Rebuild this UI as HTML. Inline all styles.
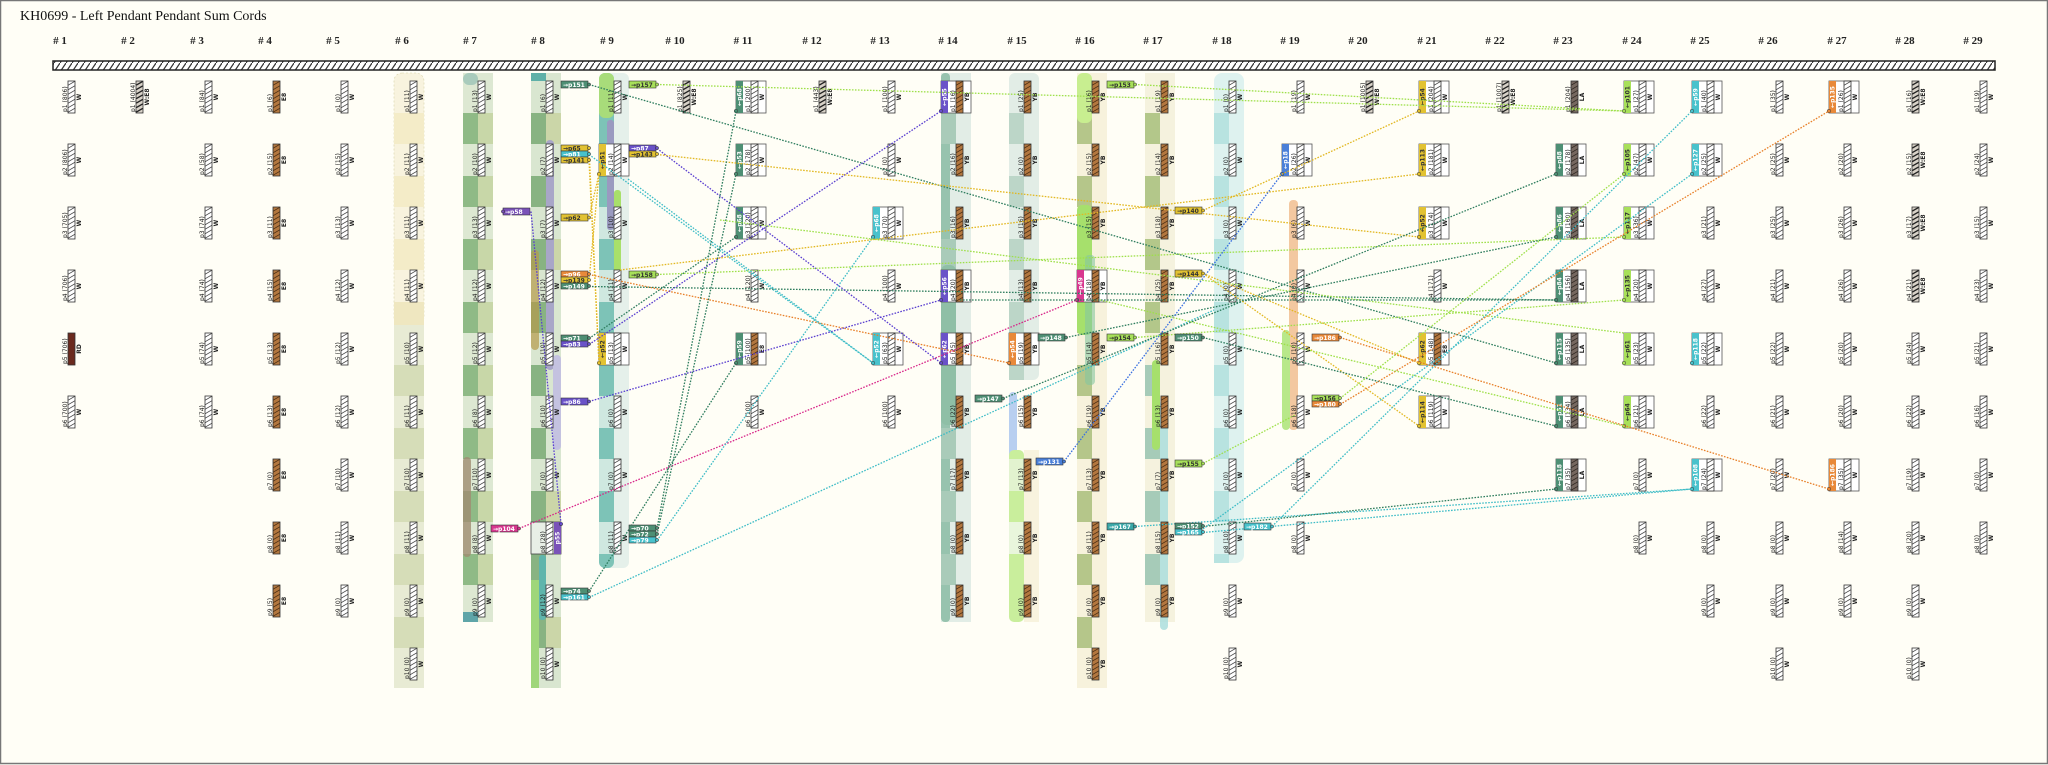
<!DOCTYPE html>
<html><head><meta charset="utf-8"><style>
html,body{margin:0;padding:0;background:#fffef6;}
svg{display:block}
.l{font:6px "DejaVu Sans",sans-serif;fill:#222}
.c{font:bold 6px "DejaVu Sans",sans-serif;fill:#222;text-anchor:middle}
.t{font:bold 6px "DejaVu Sans",sans-serif;fill:#fff;text-anchor:middle}
.tg{font:bold 6px "DejaVu Sans",sans-serif;fill:#fff}
.tk{font:bold 6px "DejaVu Sans",sans-serif;fill:#333}
.h{font:bold 11px "Liberation Serif",serif;fill:#222;text-anchor:middle}
.ln{fill:none;stroke-width:1.3;stroke-dasharray:1.6 1.4}
</style></head><body>
<svg width="2048" height="765" viewBox="0 0 2048 765" xmlns="http://www.w3.org/2000/svg">
<defs>
<pattern id="hw" width="7" height="4.5" patternUnits="userSpaceOnUse"><rect width="7" height="4.5" fill="#fff"/><path d="M0,4.3L7,0.2" stroke="#444" stroke-width=".8"/></pattern>
<pattern id="hb" width="7" height="4.5" patternUnits="userSpaceOnUse"><rect width="7" height="4.5" fill="#b3773f"/><path d="M0,4.3L7,0.2" stroke="#4a2d12" stroke-width=".8"/></pattern>
<pattern id="hl" width="7" height="4.5" patternUnits="userSpaceOnUse"><rect width="7" height="4.5" fill="#766860"/><path d="M0,4.3L7,0.2" stroke="#2e2620" stroke-width=".8"/></pattern>
<pattern id="hd" width="7" height="4.5" patternUnits="userSpaceOnUse"><rect width="7" height="4.5" fill="#d8d2c8"/><path d="M0,4.3L7,0.2" stroke="#222" stroke-width="1.3"/></pattern>
<pattern id="bar" width="6" height="9" patternUnits="userSpaceOnUse"><rect width="6" height="9" fill="#fff"/><path d="M0,9L6,0" stroke="#333" stroke-width="1.2"/></pattern>
<rect id="w" width="7" height="32" fill="url(#hw)" stroke="#333" stroke-width=".8"/>
<rect id="b" width="7" height="32" fill="url(#hb)" stroke="#333" stroke-width=".8"/>
<rect id="a" width="7" height="32" fill="url(#hl)" stroke="#333" stroke-width=".8"/>
<rect id="d" width="7" height="32" fill="url(#hd)" stroke="#333" stroke-width=".8"/>
</defs>
<rect x="0.5" y="0.5" width="2047" height="763" fill="#fffef6" stroke="#777" stroke-width="1.5"/>
<text x="20" y="20" style="font:14px 'Liberation Serif',serif;fill:#111">KH0699 - Left Pendant Pendant Sum Cords</text>
<g>
<text class="h" x="60" y="44"># 1</text><text class="h" x="128" y="44"># 2</text><text class="h" x="197" y="44"># 3</text><text class="h" x="265" y="44"># 4</text><text class="h" x="333" y="44"># 5</text><text class="h" x="402" y="44"># 6</text><text class="h" x="470" y="44"># 7</text><text class="h" x="538" y="44"># 8</text><text class="h" x="607" y="44"># 9</text><text class="h" x="675" y="44"># 10</text><text class="h" x="743" y="44"># 11</text><text class="h" x="812" y="44"># 12</text><text class="h" x="880" y="44"># 13</text><text class="h" x="948" y="44"># 14</text><text class="h" x="1017" y="44"># 15</text><text class="h" x="1085" y="44"># 16</text><text class="h" x="1153" y="44"># 17</text><text class="h" x="1222" y="44"># 18</text><text class="h" x="1290" y="44"># 19</text><text class="h" x="1358" y="44"># 20</text><text class="h" x="1427" y="44"># 21</text><text class="h" x="1495" y="44"># 22</text><text class="h" x="1563" y="44"># 23</text><text class="h" x="1632" y="44"># 24</text><text class="h" x="1700" y="44"># 25</text><text class="h" x="1768" y="44"># 26</text><text class="h" x="1837" y="44"># 27</text><text class="h" x="1905" y="44"># 28</text><text class="h" x="1973" y="44"># 29</text>
</g>
<rect x="53" y="61" width="1942" height="9" fill="url(#bar)" stroke="#222" stroke-width="1.5"/>

<!-- bands -->
<g>
<rect x="394" y="73" width="30" height="252" rx="8" fill="#f8f3de" stroke="#d8d3a8" stroke-width=".6" stroke-dasharray="2 2"/>
<rect x="394" y="113" width="30" height="31" fill="#f4ecc8"/><rect x="394" y="176" width="30" height="31" fill="#f4ecc8"/><rect x="394" y="239" width="30" height="31" fill="#f4ecc8"/><rect x="394" y="302" width="30" height="23" fill="#efe7c0"/>
<rect x="394" y="325" width="30" height="363" fill="#e8ebd4"/>
<rect x="394" y="365" width="30" height="31" fill="#d6ddb8"/><rect x="394" y="428" width="30" height="31" fill="#d6ddb8"/><rect x="394" y="491" width="30" height="31" fill="#d6ddb8"/><rect x="394" y="554" width="30" height="31" fill="#d6ddb8"/><rect x="394" y="617" width="30" height="31" fill="#d6ddb8"/>

<rect x="463" y="73" width="30" height="549" fill="#dde8d2"/>
<rect x="463" y="73" width="15" height="12" rx="6" fill="#a9cbbc"/>
<g fill="#8fba86"><rect x="463" y="113" width="15" height="31"/><rect x="463" y="176" width="15" height="31"/><rect x="463" y="239" width="15" height="31"/><rect x="463" y="302" width="15" height="31"/><rect x="463" y="365" width="15" height="31"/><rect x="463" y="428" width="15" height="31"/><rect x="463" y="491" width="15" height="31"/><rect x="463" y="554" width="15" height="31"/></g>
<g fill="#c8d7a8"><rect x="478" y="113" width="15" height="31"/><rect x="478" y="176" width="15" height="31"/><rect x="478" y="239" width="15" height="31"/><rect x="478" y="302" width="15" height="31"/><rect x="478" y="365" width="15" height="31"/><rect x="478" y="428" width="15" height="31"/><rect x="478" y="491" width="15" height="31"/><rect x="478" y="554" width="15" height="31"/></g>
<rect x="463" y="457" width="8" height="100" rx="4" fill="#a08c72" opacity=".8"/>
<rect x="463" y="612" width="15" height="10" fill="#5fa5a8"/>

<rect x="531" y="73" width="30" height="615" fill="#d9e6d0"/>
<rect x="531" y="73" width="15" height="8" fill="#5fb0a8"/>
<g fill="#88b382"><rect x="531" y="113" width="15" height="31"/><rect x="531" y="176" width="15" height="31"/><rect x="531" y="239" width="15" height="31"/><rect x="531" y="302" width="15" height="31"/><rect x="531" y="365" width="15" height="31"/><rect x="531" y="428" width="15" height="31"/><rect x="531" y="491" width="15" height="31"/><rect x="531" y="554" width="15" height="31"/><rect x="531" y="617" width="15" height="31"/></g>
<g fill="#cbd6a8"><rect x="546" y="113" width="15" height="31"/><rect x="546" y="239" width="15" height="31"/><rect x="546" y="491" width="15" height="31"/><rect x="546" y="617" width="15" height="31"/></g>
<rect x="531" y="250" width="8" height="100" rx="4" fill="#b59a4a" opacity=".7"/>
<rect x="546" y="140" width="8" height="230" rx="4" fill="#a8a6c8"/>
<rect x="553" y="355" width="8" height="95" rx="4" fill="#c4c2e0"/>
<rect x="539" y="555" width="7" height="65" rx="3" fill="#5fb5ac"/>
<rect x="531" y="580" width="8" height="108" fill="#9fd67a"/>

<rect x="599" y="73" width="30" height="495" rx="6" fill="#e5f0ea"/>
<rect x="599" y="73" width="15" height="495" rx="6" fill="#7dc3b7"/>
<g fill="#cfe8e0"><rect x="599" y="81" width="15" height="32"/><rect x="599" y="207" width="15" height="32"/><rect x="599" y="270" width="15" height="32"/><rect x="599" y="396" width="15" height="32"/><rect x="599" y="459" width="15" height="32"/><rect x="599" y="522" width="15" height="32"/></g>
<rect x="599" y="73" width="15" height="45" rx="6" fill="#a8dc7a"/>
<rect x="607" y="120" width="7" height="110" rx="3" fill="#9a9ac0"/>
<rect x="614" y="190" width="7" height="85" rx="3" fill="#a8e06a"/>

<rect x="941" y="73" width="30" height="549" fill="#e2ede6"/>
<rect x="941" y="73" width="9" height="549" rx="4" fill="#97c3ae"/>
<g fill="#a9cbb9"><rect x="941" y="113" width="15" height="31"/><rect x="941" y="239" width="15" height="31"/><rect x="941" y="365" width="15" height="31"/><rect x="941" y="428" width="15" height="31"/><rect x="941" y="491" width="15" height="31"/><rect x="941" y="554" width="15" height="31"/></g>
<rect x="941" y="265" width="15" height="160" rx="6" fill="#8fbfa6"/>

<rect x="1009" y="73" width="30" height="307" rx="6" fill="#e2ede6"/>
<g fill="#bcd6c8"><rect x="1009" y="113" width="15" height="31"/><rect x="1009" y="176" width="15" height="31"/><rect x="1009" y="239" width="15" height="31"/><rect x="1009" y="302" width="15" height="31"/><rect x="1009" y="365" width="15" height="15"/></g>
<rect x="1009" y="392" width="8" height="103" rx="4" fill="#b8cff0"/>
<rect x="1024" y="450" width="15" height="172" fill="#f8f3de"/>
<rect x="1009" y="450" width="15" height="172" rx="5" fill="#c9ee9c"/>
<rect x="1009" y="459" width="15" height="32" fill="#e2f3cf"/><rect x="1009" y="522" width="15" height="32" fill="#e9f6dc"/>

<rect x="1077" y="73" width="30" height="615" fill="#f7f2dc"/>
<g fill="#b5c68a"><rect x="1077" y="113" width="15" height="31"/><rect x="1077" y="176" width="15" height="31"/><rect x="1077" y="239" width="15" height="31"/><rect x="1077" y="302" width="15" height="31"/><rect x="1077" y="365" width="15" height="31"/><rect x="1077" y="428" width="15" height="31"/><rect x="1077" y="491" width="15" height="31"/><rect x="1077" y="554" width="15" height="31"/><rect x="1077" y="617" width="15" height="31"/></g>
<rect x="1077" y="73" width="15" height="50" rx="6" fill="#c8ee90"/>
<rect x="1077" y="205" width="15" height="130" rx="5" fill="#a6e06c"/>
<rect x="1085" y="255" width="10" height="130" rx="4" fill="#86c6a0" opacity=".6"/>

<rect x="1145" y="73" width="30" height="549" fill="#f5f2de"/>
<g fill="#b3c78a"><rect x="1145" y="113" width="15" height="31"/><rect x="1145" y="176" width="15" height="31"/><rect x="1145" y="239" width="15" height="31"/><rect x="1145" y="302" width="15" height="31"/></g>
<g fill="#a6cbb8"><rect x="1145" y="365" width="15" height="31"/><rect x="1145" y="428" width="15" height="31"/><rect x="1145" y="491" width="15" height="31"/><rect x="1145" y="554" width="15" height="31"/></g>
<rect x="1160" y="400" width="8" height="230" rx="4" fill="#a6dcdc" opacity=".8"/>
<rect x="1152" y="360" width="8" height="90" rx="4" fill="#a6e06c"/>

<rect x="1214" y="73" width="30" height="490" rx="8" fill="#def2ef"/>
<g fill="#b8e3e0"><rect x="1214" y="113" width="15" height="31"/><rect x="1214" y="176" width="15" height="31"/><rect x="1214" y="239" width="15" height="31"/><rect x="1214" y="302" width="15" height="31"/><rect x="1214" y="365" width="15" height="31"/><rect x="1214" y="428" width="15" height="31"/><rect x="1214" y="491" width="15" height="31"/><rect x="1214" y="554" width="15" height="9"/></g>

<rect x="1289" y="200" width="9" height="230" rx="4" fill="#f3c8a0"/>
<rect x="1282" y="330" width="8" height="100" rx="4" fill="#b8e88a"/>
</g>

<!-- cords -->
<g id="cords">
<!-- col1 -->
<g transform="translate(68,81)"><use href="#w"/><text class="l" transform="translate(-1,31)rotate(-90)">p1 (806)</text><text class="c" transform="translate(13,16)rotate(-90)">W</text></g>
<g transform="translate(68,144)"><use href="#w"/><text class="l" transform="translate(-1,31)rotate(-90)">p2 (806)</text><text class="c" transform="translate(13,16)rotate(-90)">W</text></g>
<g transform="translate(68,207)"><use href="#w"/><text class="l" transform="translate(-1,31)rotate(-90)">p3 (705)</text><text class="c" transform="translate(13,16)rotate(-90)">W</text></g>
<g transform="translate(68,270)"><use href="#w"/><text class="l" transform="translate(-1,31)rotate(-90)">p4 (706)</text><text class="c" transform="translate(13,16)rotate(-90)">W</text></g>
<g transform="translate(68,333)"><rect width="7" height="32" fill="#6b2a1e" stroke="#333" stroke-width=".8"/><text class="l" transform="translate(-1,31)rotate(-90)">p5 (706)</text><text class="c" transform="translate(13,16)rotate(-90)">RD</text></g>
<g transform="translate(68,396)"><use href="#w"/><text class="l" transform="translate(-1,31)rotate(-90)">p6 (700)</text><text class="c" transform="translate(13,16)rotate(-90)">W</text></g>
<!-- col2 -->
<g transform="translate(136,81)"><use href="#d"/><text class="l" transform="translate(-1,31)rotate(-90)">p1 (4004)</text><text class="c" transform="translate(13,16)rotate(-90)">W:E8</text></g>
<!-- col3 -->
<g transform="translate(205,81)"><use href="#w"/><text class="l" transform="translate(-1,31)rotate(-90)">p1 (84)</text><text class="c" transform="translate(13,16)rotate(-90)">W</text></g>
<g transform="translate(205,144)"><use href="#w"/><text class="l" transform="translate(-1,31)rotate(-90)">p2 (58)</text><text class="c" transform="translate(13,16)rotate(-90)">W</text></g>
<g transform="translate(205,207)"><use href="#w"/><text class="l" transform="translate(-1,31)rotate(-90)">p3 (74)</text><text class="c" transform="translate(13,16)rotate(-90)">W</text></g>
<g transform="translate(205,270)"><use href="#w"/><text class="l" transform="translate(-1,31)rotate(-90)">p4 (74)</text><text class="c" transform="translate(13,16)rotate(-90)">W</text></g>
<g transform="translate(205,333)"><use href="#w"/><text class="l" transform="translate(-1,31)rotate(-90)">p5 (74)</text><text class="c" transform="translate(13,16)rotate(-90)">W</text></g>
<g transform="translate(205,396)"><use href="#w"/><text class="l" transform="translate(-1,31)rotate(-90)">p6 (74)</text><text class="c" transform="translate(13,16)rotate(-90)">W</text></g>
<!-- col4 -->
<g transform="translate(273,81)"><use href="#b"/><text class="l" transform="translate(-1,31)rotate(-90)">p1 (6)</text><text class="c" transform="translate(13,16)rotate(-90)">E8</text></g>
<g transform="translate(273,144)"><use href="#b"/><text class="l" transform="translate(-1,31)rotate(-90)">p2 (15)</text><text class="c" transform="translate(13,16)rotate(-90)">E8</text></g>
<g transform="translate(273,207)"><use href="#b"/><text class="l" transform="translate(-1,31)rotate(-90)">p3 (11)</text><text class="c" transform="translate(13,16)rotate(-90)">E8</text></g>
<g transform="translate(273,270)"><use href="#b"/><text class="l" transform="translate(-1,31)rotate(-90)">p4 (15)</text><text class="c" transform="translate(13,16)rotate(-90)">E8</text></g>
<g transform="translate(273,333)"><use href="#b"/><text class="l" transform="translate(-1,31)rotate(-90)">p5 (13)</text><text class="c" transform="translate(13,16)rotate(-90)">E8</text></g>
<g transform="translate(273,396)"><use href="#b"/><text class="l" transform="translate(-1,31)rotate(-90)">p6 (13)</text><text class="c" transform="translate(13,16)rotate(-90)">E8</text></g>
<g transform="translate(273,459)"><use href="#b"/><text class="l" transform="translate(-1,31)rotate(-90)">p7 (0)</text><text class="c" transform="translate(13,16)rotate(-90)">E8</text></g>
<g transform="translate(273,522)"><use href="#b"/><text class="l" transform="translate(-1,31)rotate(-90)">p8 (0)</text><text class="c" transform="translate(13,16)rotate(-90)">E8</text></g>
<g transform="translate(273,585)"><use href="#b"/><text class="l" transform="translate(-1,31)rotate(-90)">p9 (5)</text><text class="c" transform="translate(13,16)rotate(-90)">E8</text></g>
<!-- col5 -->
<g transform="translate(341,81)"><use href="#w"/><text class="l" transform="translate(-1,31)rotate(-90)">p1 (0)</text><text class="c" transform="translate(13,16)rotate(-90)">W</text></g>
<g transform="translate(341,144)"><use href="#w"/><text class="l" transform="translate(-1,31)rotate(-90)">p2 (15)</text><text class="c" transform="translate(13,16)rotate(-90)">W</text></g>
<g transform="translate(341,207)"><use href="#w"/><text class="l" transform="translate(-1,31)rotate(-90)">p3 (13)</text><text class="c" transform="translate(13,16)rotate(-90)">W</text></g>
<g transform="translate(341,270)"><use href="#w"/><text class="l" transform="translate(-1,31)rotate(-90)">p4 (12)</text><text class="c" transform="translate(13,16)rotate(-90)">W</text></g>
<g transform="translate(341,333)"><use href="#w"/><text class="l" transform="translate(-1,31)rotate(-90)">p5 (12)</text><text class="c" transform="translate(13,16)rotate(-90)">W</text></g>
<g transform="translate(341,396)"><use href="#w"/><text class="l" transform="translate(-1,31)rotate(-90)">p6 (12)</text><text class="c" transform="translate(13,16)rotate(-90)">W</text></g>
<g transform="translate(341,459)"><use href="#w"/><text class="l" transform="translate(-1,31)rotate(-90)">p7 (10)</text><text class="c" transform="translate(13,16)rotate(-90)">W</text></g>
<g transform="translate(341,522)"><use href="#w"/><text class="l" transform="translate(-1,31)rotate(-90)">p8 (11)</text><text class="c" transform="translate(13,16)rotate(-90)">W</text></g>
<g transform="translate(341,585)"><use href="#w"/><text class="l" transform="translate(-1,31)rotate(-90)">p9 (0)</text><text class="c" transform="translate(13,16)rotate(-90)">W</text></g>
<!-- col6 -->
<g transform="translate(410,81)"><use href="#w"/><text class="l" transform="translate(-1,31)rotate(-90)">p1 (11)</text><text class="c" transform="translate(13,16)rotate(-90)">W</text></g>
<g transform="translate(410,144)"><use href="#w"/><text class="l" transform="translate(-1,31)rotate(-90)">p2 (11)</text><text class="c" transform="translate(13,16)rotate(-90)">W</text></g>
<g transform="translate(410,207)"><use href="#w"/><text class="l" transform="translate(-1,31)rotate(-90)">p3 (11)</text><text class="c" transform="translate(13,16)rotate(-90)">W</text></g>
<g transform="translate(410,270)"><use href="#w"/><text class="l" transform="translate(-1,31)rotate(-90)">p4 (11)</text><text class="c" transform="translate(13,16)rotate(-90)">W</text></g>
<g transform="translate(410,333)"><use href="#w"/><text class="l" transform="translate(-1,31)rotate(-90)">p5 (10)</text><text class="c" transform="translate(13,16)rotate(-90)">W</text></g>
<g transform="translate(410,396)"><use href="#w"/><text class="l" transform="translate(-1,31)rotate(-90)">p6 (11)</text><text class="c" transform="translate(13,16)rotate(-90)">W</text></g>
<g transform="translate(410,459)"><use href="#w"/><text class="l" transform="translate(-1,31)rotate(-90)">p7 (10)</text><text class="c" transform="translate(13,16)rotate(-90)">W</text></g>
<g transform="translate(410,522)"><use href="#w"/><text class="l" transform="translate(-1,31)rotate(-90)">p8 (11)</text><text class="c" transform="translate(13,16)rotate(-90)">W</text></g>
<g transform="translate(410,585)"><use href="#w"/><text class="l" transform="translate(-1,31)rotate(-90)">p9 (0)</text><text class="c" transform="translate(13,16)rotate(-90)">W</text></g>
<g transform="translate(410,648)"><use href="#w"/><text class="l" transform="translate(-1,31)rotate(-90)">p10 (0)</text><text class="c" transform="translate(13,16)rotate(-90)">W</text></g>
<!-- col7 -->
<g transform="translate(478,81)"><use href="#w"/><text class="l" transform="translate(-1,31)rotate(-90)">p1 (13)</text><text class="c" transform="translate(13,16)rotate(-90)">W</text></g>
<g transform="translate(478,144)"><use href="#w"/><text class="l" transform="translate(-1,31)rotate(-90)">p2 (10)</text><text class="c" transform="translate(13,16)rotate(-90)">W</text></g>
<g transform="translate(478,207)"><use href="#w"/><text class="l" transform="translate(-1,31)rotate(-90)">p3 (13)</text><text class="c" transform="translate(13,16)rotate(-90)">W</text></g>
<g transform="translate(478,270)"><use href="#w"/><text class="l" transform="translate(-1,31)rotate(-90)">p4 (12)</text><text class="c" transform="translate(13,16)rotate(-90)">W</text></g>
<g transform="translate(478,333)"><use href="#w"/><text class="l" transform="translate(-1,31)rotate(-90)">p5 (12)</text><text class="c" transform="translate(13,16)rotate(-90)">W</text></g>
<g transform="translate(478,396)"><use href="#w"/><text class="l" transform="translate(-1,31)rotate(-90)">p6 (8)</text><text class="c" transform="translate(13,16)rotate(-90)">W</text></g>
<g transform="translate(478,459)"><use href="#w"/><text class="l" transform="translate(-1,31)rotate(-90)">p7 (10)</text><text class="c" transform="translate(13,16)rotate(-90)">W</text></g>
<g transform="translate(478,522)"><use href="#w"/><text class="l" transform="translate(-1,31)rotate(-90)">p8 (8)</text><text class="c" transform="translate(13,16)rotate(-90)">W</text></g>
<g transform="translate(478,585)"><use href="#w"/><text class="l" transform="translate(-1,31)rotate(-90)">p9 (0)</text><text class="c" transform="translate(13,16)rotate(-90)">W</text></g>
<!-- col8 -->
<g transform="translate(546,81)"><use href="#w"/><text class="l" transform="translate(-1,31)rotate(-90)">p1 (6)</text><text class="c" transform="translate(13,16)rotate(-90)">W</text></g>
<g transform="translate(546,144)"><use href="#w"/><text class="l" transform="translate(-1,31)rotate(-90)">p2 (7)</text><text class="c" transform="translate(13,16)rotate(-90)">W</text></g>
<g transform="translate(546,207)"><use href="#w"/><text class="l" transform="translate(-1,31)rotate(-90)">p3 (7)</text><text class="c" transform="translate(13,16)rotate(-90)">W</text></g>
<g transform="translate(546,270)"><use href="#w"/><text class="l" transform="translate(-1,31)rotate(-90)">p4 (12)</text><text class="c" transform="translate(13,16)rotate(-90)">W</text></g>
<g transform="translate(546,333)"><use href="#w"/><text class="l" transform="translate(-1,31)rotate(-90)">p5 (10)</text><text class="c" transform="translate(13,16)rotate(-90)">W</text></g>
<g transform="translate(546,396)"><use href="#w"/><text class="l" transform="translate(-1,31)rotate(-90)">p6 (10)</text><text class="c" transform="translate(13,16)rotate(-90)">W</text></g>
<g transform="translate(546,459)"><use href="#w"/><text class="l" transform="translate(-1,31)rotate(-90)">p7 (0)</text><text class="c" transform="translate(13,16)rotate(-90)">W</text></g>
<g transform="translate(546,522)"><rect x="-15" width="30" height="32" fill="#e8efe6" stroke="#444" stroke-width=".8"/><rect x="8" width="7" height="32" fill="#7a52b8"/><use href="#w" x="0"/><text class="l" transform="translate(-1,31)rotate(-90)">p8 (28)</text><text class="t" transform="translate(13.5,16)rotate(-90)">p55</text><circle cx="15" cy="2" r="1.7" fill="#6a52c8" stroke="#222" stroke-width=".5"/></g>
<g transform="translate(546,585)"><use href="#w"/><text class="l" transform="translate(-1,31)rotate(-90)">p9 (12)</text><text class="c" transform="translate(13,16)rotate(-90)">W</text></g>
<g transform="translate(546,648)"><use href="#w"/><text class="l" transform="translate(-1,31)rotate(-90)">p10 (0)</text><text class="c" transform="translate(13,16)rotate(-90)">W</text></g>
<!-- col9 -->
<g transform="translate(614,81)"><use href="#w"/><text class="l" transform="translate(-1,31)rotate(-90)">p1 (11)</text><text class="c" transform="translate(13,16)rotate(-90)">W</text></g>
<g transform="translate(614,144)"><rect x="-15" width="30" height="32" fill="#fff" stroke="#555" stroke-width=".8"/><rect x="-15" width="7" height="32" fill="#e2c232"/><text class="tk" transform="translate(-9.5,16)rotate(-90)" text-anchor="middle">←p51</text><circle cx="-15" cy="30" r="1.8" fill="#e2c232" stroke="#333" stroke-width=".5"/><use href="#w"/><text class="l" transform="translate(-1,31)rotate(-90)">p2 (14)</text><text class="c" transform="translate(13,16)rotate(-90)">W</text></g>
<g transform="translate(614,207)"><use href="#w"/><text class="l" transform="translate(-1,31)rotate(-90)">p3 (10)</text><text class="c" transform="translate(13,16)rotate(-90)">W</text></g>
<g transform="translate(614,270)"><use href="#w"/><text class="l" transform="translate(-1,31)rotate(-90)">p4 (11)</text><text class="c" transform="translate(13,16)rotate(-90)">W</text></g>
<g transform="translate(614,333)"><rect x="-15" width="30" height="32" fill="#fff" stroke="#555" stroke-width=".8"/><rect x="-15" width="7" height="32" fill="#e2c232"/><text class="tk" transform="translate(-9.5,16)rotate(-90)" text-anchor="middle">←p52</text><circle cx="-15" cy="30" r="1.8" fill="#e2c232" stroke="#333" stroke-width=".5"/><use href="#w"/><text class="l" transform="translate(-1,31)rotate(-90)">p5 (13)</text><text class="c" transform="translate(13,16)rotate(-90)">W</text></g>
<g transform="translate(614,396)"><use href="#w"/><text class="l" transform="translate(-1,31)rotate(-90)">p6 (0)</text><text class="c" transform="translate(13,16)rotate(-90)">W</text></g>
<g transform="translate(614,459)"><use href="#w"/><text class="l" transform="translate(-1,31)rotate(-90)">p7 (0)</text><text class="c" transform="translate(13,16)rotate(-90)">W</text></g>
<g transform="translate(614,522)"><use href="#w"/><text class="l" transform="translate(-1,31)rotate(-90)">p8 (11)</text><text class="c" transform="translate(13,16)rotate(-90)">W</text></g>
<!-- col10 -->
<g transform="translate(683,81)"><use href="#d"/><text class="l" transform="translate(-1,31)rotate(-90)">p1 (825)</text><text class="c" transform="translate(13,16)rotate(-90)">W:E8</text></g>
<!-- col11 -->
<g transform="translate(751,81)"><rect x="-15" width="30" height="32" fill="#fff" stroke="#555" stroke-width=".8"/><rect x="-15" width="7" height="32" fill="#4e8f74"/><text class="t" transform="translate(-9.5,16)rotate(-90)">←p68</text><circle cx="-15" cy="30" r="1.8" fill="#4e8f74" stroke="#333" stroke-width=".5"/><use href="#w"/><text class="l" transform="translate(-1,31)rotate(-90)">p1 (200)</text><text class="c" transform="translate(13,16)rotate(-90)">W</text></g>
<g transform="translate(751,144)"><rect x="-15" width="30" height="32" fill="#fff" stroke="#555" stroke-width=".8"/><rect x="-15" width="7" height="32" fill="#4e8f74"/><text class="t" transform="translate(-9.5,16)rotate(-90)">←p53</text><circle cx="-15" cy="30" r="1.8" fill="#4e8f74" stroke="#333" stroke-width=".5"/><use href="#w"/><text class="l" transform="translate(-1,31)rotate(-90)">p2 (178)</text><text class="c" transform="translate(13,16)rotate(-90)">W</text></g>
<g transform="translate(751,207)"><rect x="-15" width="30" height="32" fill="#fff" stroke="#555" stroke-width=".8"/><rect x="-15" width="7" height="32" fill="#4e8f74"/><text class="t" transform="translate(-9.5,16)rotate(-90)">←p68</text><circle cx="-15" cy="30" r="1.8" fill="#4e8f74" stroke="#333" stroke-width=".5"/><use href="#w"/><text class="l" transform="translate(-1,31)rotate(-90)">p3 (120)</text><text class="c" transform="translate(13,16)rotate(-90)">W</text></g>
<g transform="translate(751,270)"><use href="#w"/><text class="l" transform="translate(-1,31)rotate(-90)">p4 (120)</text><text class="c" transform="translate(13,16)rotate(-90)">W</text></g>
<g transform="translate(751,333)"><rect x="-15" width="30" height="32" fill="#fff" stroke="#555" stroke-width=".8"/><rect x="-15" width="7" height="32" fill="#4e8f74"/><text class="t" transform="translate(-9.5,16)rotate(-90)">←p59</text><circle cx="-15" cy="30" r="1.8" fill="#4e8f74" stroke="#333" stroke-width=".5"/><use href="#b"/><text class="l" transform="translate(-1,31)rotate(-90)">p5 (100)</text><text class="c" transform="translate(13,16)rotate(-90)">E8</text></g>
<g transform="translate(751,396)"><use href="#w"/><text class="l" transform="translate(-1,31)rotate(-90)">p6 (100)</text><text class="c" transform="translate(13,16)rotate(-90)">W</text></g>
<!-- col12 -->
<g transform="translate(819,81)"><use href="#d"/><text class="l" transform="translate(-1,31)rotate(-90)">p1 (443)</text><text class="c" transform="translate(13,16)rotate(-90)">W:E8</text></g>
<!-- col13 -->
<g transform="translate(888,81)"><use href="#w"/><text class="l" transform="translate(-1,31)rotate(-90)">p1 (100)</text><text class="c" transform="translate(13,16)rotate(-90)">W</text></g>
<g transform="translate(888,144)"><use href="#w"/><text class="l" transform="translate(-1,31)rotate(-90)">p2 (0)</text><text class="c" transform="translate(13,16)rotate(-90)">W</text></g>
<g transform="translate(888,207)"><rect x="-15" width="30" height="32" fill="#fff" stroke="#555" stroke-width=".8"/><rect x="-15" width="7" height="32" fill="#49c2cc"/><text class="t" transform="translate(-9.5,16)rotate(-90)">←p68</text><circle cx="-15" cy="30" r="1.8" fill="#49c2cc" stroke="#333" stroke-width=".5"/><use href="#w"/><text class="l" transform="translate(-1,31)rotate(-90)">p3 (70)</text><text class="c" transform="translate(13,16)rotate(-90)">W</text></g>
<g transform="translate(888,270)"><use href="#w"/><text class="l" transform="translate(-1,31)rotate(-90)">p4 (100)</text><text class="c" transform="translate(13,16)rotate(-90)">W</text></g>
<g transform="translate(888,333)"><rect x="-15" width="30" height="32" fill="#fff" stroke="#555" stroke-width=".8"/><rect x="-15" width="7" height="32" fill="#49c2cc"/><text class="t" transform="translate(-9.5,16)rotate(-90)">←p52</text><circle cx="-15" cy="30" r="1.8" fill="#49c2cc" stroke="#333" stroke-width=".5"/><use href="#w"/><text class="l" transform="translate(-1,31)rotate(-90)">p5 (63)</text><text class="c" transform="translate(13,16)rotate(-90)">W</text></g>
<g transform="translate(888,396)"><use href="#w"/><text class="l" transform="translate(-1,31)rotate(-90)">p6 (100)</text><text class="c" transform="translate(13,16)rotate(-90)">W</text></g>
<!-- col14 -->
<g transform="translate(956,81)"><rect x="-15" width="30" height="32" fill="#fff" stroke="#555" stroke-width=".8"/><rect x="-15" width="7" height="32" fill="#6a52c8"/><text class="t" transform="translate(-9.5,16)rotate(-90)">←p55</text><circle cx="-15" cy="30" r="1.8" fill="#6a52c8" stroke="#333" stroke-width=".5"/><use href="#b"/><text class="l" transform="translate(-1,31)rotate(-90)">p1 (16)</text><text class="c" transform="translate(13,16)rotate(-90)">YB</text></g>
<g transform="translate(956,144)"><use href="#b"/><text class="l" transform="translate(-1,31)rotate(-90)">p2 (16)</text><text class="c" transform="translate(13,16)rotate(-90)">YB</text></g>
<g transform="translate(956,207)"><use href="#b"/><text class="l" transform="translate(-1,31)rotate(-90)">p3 (16)</text><text class="c" transform="translate(13,16)rotate(-90)">YB</text></g>
<g transform="translate(956,270)"><rect x="-15" width="30" height="32" fill="#fff" stroke="#555" stroke-width=".8"/><rect x="-15" width="7" height="32" fill="#6a52c8"/><text class="t" transform="translate(-9.5,16)rotate(-90)">←p56</text><circle cx="-15" cy="30" r="1.8" fill="#6a52c8" stroke="#333" stroke-width=".5"/><use href="#b"/><text class="l" transform="translate(-1,31)rotate(-90)">p4 (20)</text><text class="c" transform="translate(13,16)rotate(-90)">YB</text></g>
<g transform="translate(956,333)"><rect x="-15" width="30" height="32" fill="#fff" stroke="#555" stroke-width=".8"/><rect x="-15" width="7" height="32" fill="#6a52c8"/><text class="t" transform="translate(-9.5,16)rotate(-90)">←p62</text><circle cx="-15" cy="30" r="1.8" fill="#6a52c8" stroke="#333" stroke-width=".5"/><use href="#b"/><text class="l" transform="translate(-1,31)rotate(-90)">p5 (25)</text><text class="c" transform="translate(13,16)rotate(-90)">YB</text></g>
<g transform="translate(956,396)"><use href="#b"/><text class="l" transform="translate(-1,31)rotate(-90)">p6 (22)</text><text class="c" transform="translate(13,16)rotate(-90)">YB</text></g>
<g transform="translate(956,459)"><use href="#b"/><text class="l" transform="translate(-1,31)rotate(-90)">p7 (17)</text><text class="c" transform="translate(13,16)rotate(-90)">YB</text></g>
<g transform="translate(956,522)"><use href="#b"/><text class="l" transform="translate(-1,31)rotate(-90)">p8 (0)</text><text class="c" transform="translate(13,16)rotate(-90)">YB</text></g>
<g transform="translate(956,585)"><use href="#b"/><text class="l" transform="translate(-1,31)rotate(-90)">p9 (0)</text><text class="c" transform="translate(13,16)rotate(-90)">YB</text></g>
<!-- col15 -->
<g transform="translate(1024,81)"><use href="#b"/><text class="l" transform="translate(-1,31)rotate(-90)">p1 (25)</text><text class="c" transform="translate(13,16)rotate(-90)">YB</text></g>
<g transform="translate(1024,144)"><use href="#b"/><text class="l" transform="translate(-1,31)rotate(-90)">p2 (0)</text><text class="c" transform="translate(13,16)rotate(-90)">YB</text></g>
<g transform="translate(1024,207)"><use href="#b"/><text class="l" transform="translate(-1,31)rotate(-90)">p3 (16)</text><text class="c" transform="translate(13,16)rotate(-90)">YB</text></g>
<g transform="translate(1024,270)"><use href="#b"/><text class="l" transform="translate(-1,31)rotate(-90)">p4 (13)</text><text class="c" transform="translate(13,16)rotate(-90)">YB</text></g>
<g transform="translate(1024,333)"><rect x="-15" width="30" height="32" fill="#fff" stroke="#555" stroke-width=".8"/><rect x="-15" width="7" height="32" fill="#e8893a"/><text class="t" transform="translate(-9.5,16)rotate(-90)">←p54</text><circle cx="-15" cy="30" r="1.8" fill="#e8893a" stroke="#333" stroke-width=".5"/><use href="#b"/><text class="l" transform="translate(-1,31)rotate(-90)">p5 (19)</text><text class="c" transform="translate(13,16)rotate(-90)">YB</text></g>
<g transform="translate(1024,396)"><use href="#b"/><text class="l" transform="translate(-1,31)rotate(-90)">p6 (15)</text><text class="c" transform="translate(13,16)rotate(-90)">YB</text></g>
<g transform="translate(1024,459)"><use href="#b"/><text class="l" transform="translate(-1,31)rotate(-90)">p7 (13)</text><text class="c" transform="translate(13,16)rotate(-90)">YB</text></g>
<g transform="translate(1024,522)"><use href="#b"/><text class="l" transform="translate(-1,31)rotate(-90)">p8 (0)</text><text class="c" transform="translate(13,16)rotate(-90)">YB</text></g>
<g transform="translate(1024,585)"><use href="#b"/><text class="l" transform="translate(-1,31)rotate(-90)">p9 (0)</text><text class="c" transform="translate(13,16)rotate(-90)">YB</text></g>
<!-- col16 -->
<g transform="translate(1092,81)"><use href="#b"/><text class="l" transform="translate(-1,31)rotate(-90)">p1 (16)</text><text class="c" transform="translate(13,16)rotate(-90)">YB</text></g>
<g transform="translate(1092,144)"><use href="#b"/><text class="l" transform="translate(-1,31)rotate(-90)">p2 (15)</text><text class="c" transform="translate(13,16)rotate(-90)">YB</text></g>
<g transform="translate(1092,207)"><use href="#b"/><text class="l" transform="translate(-1,31)rotate(-90)">p3 (15)</text><text class="c" transform="translate(13,16)rotate(-90)">YB</text></g>
<g transform="translate(1092,270)"><rect x="-15" width="30" height="32" fill="#fff" stroke="#555" stroke-width=".8"/><rect x="-15" width="7" height="32" fill="#d8378f"/><text class="t" transform="translate(-9.5,16)rotate(-90)">←p49</text><circle cx="-15" cy="30" r="1.8" fill="#d8378f" stroke="#333" stroke-width=".5"/><use href="#b"/><text class="l" transform="translate(-1,31)rotate(-90)">p4 (18)</text><text class="c" transform="translate(13,16)rotate(-90)">YB</text></g>
<g transform="translate(1092,333)"><use href="#b"/><text class="l" transform="translate(-1,31)rotate(-90)">p5 (14)</text><text class="c" transform="translate(13,16)rotate(-90)">YB</text></g>
<g transform="translate(1092,396)"><use href="#b"/><text class="l" transform="translate(-1,31)rotate(-90)">p6 (19)</text><text class="c" transform="translate(13,16)rotate(-90)">YB</text></g>
<g transform="translate(1092,459)"><use href="#b"/><text class="l" transform="translate(-1,31)rotate(-90)">p7 (13)</text><text class="c" transform="translate(13,16)rotate(-90)">YB</text></g>
<g transform="translate(1092,522)"><use href="#b"/><text class="l" transform="translate(-1,31)rotate(-90)">p8 (11)</text><text class="c" transform="translate(13,16)rotate(-90)">YB</text></g>
<g transform="translate(1092,585)"><use href="#b"/><text class="l" transform="translate(-1,31)rotate(-90)">p9 (0)</text><text class="c" transform="translate(13,16)rotate(-90)">YB</text></g>
<g transform="translate(1092,648)"><use href="#b"/><text class="l" transform="translate(-1,31)rotate(-90)">p10 (0)</text><text class="c" transform="translate(13,16)rotate(-90)">YB</text></g>
<!-- col17 -->
<g transform="translate(1161,81)"><use href="#b"/><text class="l" transform="translate(-1,31)rotate(-90)">p1 (19)</text><text class="c" transform="translate(13,16)rotate(-90)">YB</text></g>
<g transform="translate(1161,144)"><use href="#b"/><text class="l" transform="translate(-1,31)rotate(-90)">p2 (14)</text><text class="c" transform="translate(13,16)rotate(-90)">YB</text></g>
<g transform="translate(1161,207)"><use href="#b"/><text class="l" transform="translate(-1,31)rotate(-90)">p3 (18)</text><text class="c" transform="translate(13,16)rotate(-90)">YB</text></g>
<g transform="translate(1161,270)"><use href="#b"/><text class="l" transform="translate(-1,31)rotate(-90)">p4 (25)</text><text class="c" transform="translate(13,16)rotate(-90)">YB</text></g>
<g transform="translate(1161,333)"><use href="#b"/><text class="l" transform="translate(-1,31)rotate(-90)">p5 (16)</text><text class="c" transform="translate(13,16)rotate(-90)">YB</text></g>
<g transform="translate(1161,396)"><use href="#b"/><text class="l" transform="translate(-1,31)rotate(-90)">p6 (13)</text><text class="c" transform="translate(13,16)rotate(-90)">YB</text></g>
<g transform="translate(1161,459)"><use href="#b"/><text class="l" transform="translate(-1,31)rotate(-90)">p7 (7)</text><text class="c" transform="translate(13,16)rotate(-90)">YB</text></g>
<g transform="translate(1161,522)"><use href="#b"/><text class="l" transform="translate(-1,31)rotate(-90)">p8 (15)</text><text class="c" transform="translate(13,16)rotate(-90)">YB</text></g>
<g transform="translate(1161,585)"><use href="#b"/><text class="l" transform="translate(-1,31)rotate(-90)">p9 (0)</text><text class="c" transform="translate(13,16)rotate(-90)">YB</text></g>
<!-- col18 -->
<g transform="translate(1229,81)"><use href="#w"/><text class="l" transform="translate(-1,31)rotate(-90)">p1 (0)</text><text class="c" transform="translate(13,16)rotate(-90)">W</text></g>
<g transform="translate(1229,144)"><use href="#w"/><text class="l" transform="translate(-1,31)rotate(-90)">p2 (0)</text><text class="c" transform="translate(13,16)rotate(-90)">W</text></g>
<g transform="translate(1229,207)"><use href="#w"/><text class="l" transform="translate(-1,31)rotate(-90)">p3 (0)</text><text class="c" transform="translate(13,16)rotate(-90)">W</text></g>
<g transform="translate(1229,270)"><use href="#w"/><text class="l" transform="translate(-1,31)rotate(-90)">p4 (0)</text><text class="c" transform="translate(13,16)rotate(-90)">W</text></g>
<g transform="translate(1229,333)"><use href="#w"/><text class="l" transform="translate(-1,31)rotate(-90)">p5 (0)</text><text class="c" transform="translate(13,16)rotate(-90)">W</text></g>
<g transform="translate(1229,396)"><use href="#w"/><text class="l" transform="translate(-1,31)rotate(-90)">p6 (0)</text><text class="c" transform="translate(13,16)rotate(-90)">W</text></g>
<g transform="translate(1229,459)"><use href="#w"/><text class="l" transform="translate(-1,31)rotate(-90)">p7 (0)</text><text class="c" transform="translate(13,16)rotate(-90)">W</text></g>
<g transform="translate(1229,522)"><use href="#w"/><text class="l" transform="translate(-1,31)rotate(-90)">p8 (10)</text><text class="c" transform="translate(13,16)rotate(-90)">W</text></g>
<g transform="translate(1229,585)"><use href="#w"/><text class="l" transform="translate(-1,31)rotate(-90)">p9 (0)</text><text class="c" transform="translate(13,16)rotate(-90)">W</text></g>
<g transform="translate(1229,648)"><use href="#w"/><text class="l" transform="translate(-1,31)rotate(-90)">p10 (0)</text><text class="c" transform="translate(13,16)rotate(-90)">W</text></g>
<!-- col19 -->
<g transform="translate(1297,81)"><use href="#w"/><text class="l" transform="translate(-1,31)rotate(-90)">p1 (19)</text><text class="c" transform="translate(13,16)rotate(-90)">W</text></g>
<g transform="translate(1297,144)"><rect x="-15" width="30" height="32" fill="#fff" stroke="#555" stroke-width=".8"/><rect x="-15" width="7" height="32" fill="#4a7fd8"/><text class="t" transform="translate(-9.5,16)rotate(-90)">←p18</text><circle cx="-15" cy="30" r="1.8" fill="#4a7fd8" stroke="#333" stroke-width=".5"/><use href="#w"/><text class="l" transform="translate(-1,31)rotate(-90)">p2 (26)</text><text class="c" transform="translate(13,16)rotate(-90)">W</text></g>
<g transform="translate(1297,207)"><use href="#w"/><text class="l" transform="translate(-1,31)rotate(-90)">p3 (6)</text><text class="c" transform="translate(13,16)rotate(-90)">W</text></g>
<g transform="translate(1297,270)"><use href="#w"/><text class="l" transform="translate(-1,31)rotate(-90)">p4 (0)</text><text class="c" transform="translate(13,16)rotate(-90)">W</text></g>
<g transform="translate(1297,333)"><use href="#w"/><text class="l" transform="translate(-1,31)rotate(-90)">p5 (10)</text><text class="c" transform="translate(13,16)rotate(-90)">W</text></g>
<g transform="translate(1297,396)"><use href="#w"/><text class="l" transform="translate(-1,31)rotate(-90)">p6 (18)</text><text class="c" transform="translate(13,16)rotate(-90)">W</text></g>
<g transform="translate(1297,459)"><use href="#w"/><text class="l" transform="translate(-1,31)rotate(-90)">p7 (0)</text><text class="c" transform="translate(13,16)rotate(-90)">W</text></g>
<g transform="translate(1297,522)"><use href="#w"/><text class="l" transform="translate(-1,31)rotate(-90)">p8 (0)</text><text class="c" transform="translate(13,16)rotate(-90)">W</text></g>
<!-- col20 -->
<g transform="translate(1366,81)"><use href="#d"/><text class="l" transform="translate(-1,31)rotate(-90)">p1 (1005)</text><text class="c" transform="translate(13,16)rotate(-90)">W:E8</text></g>
<!-- col21 -->
<g transform="translate(1434,81)"><rect x="-15" width="30" height="32" fill="#fff" stroke="#555" stroke-width=".8"/><rect x="-15" width="7" height="32" fill="#e2c232"/><text class="tk" text-anchor="middle" transform="translate(-9.5,16)rotate(-90)">←p54</text><circle cx="-15" cy="30" r="1.8" fill="#e2c232" stroke="#333" stroke-width=".5"/><use href="#w"/><text class="l" transform="translate(-1,31)rotate(-90)">p1 (204)</text><text class="c" transform="translate(13,16)rotate(-90)">W</text></g>
<g transform="translate(1434,144)"><rect x="-15" width="30" height="32" fill="#fff" stroke="#555" stroke-width=".8"/><rect x="-15" width="7" height="32" fill="#e2c232"/><text class="tk" text-anchor="middle" transform="translate(-9.5,16)rotate(-90)">←p113</text><circle cx="-15" cy="30" r="1.8" fill="#e2c232" stroke="#333" stroke-width=".5"/><use href="#w"/><text class="l" transform="translate(-1,31)rotate(-90)">p2 (181)</text><text class="c" transform="translate(13,16)rotate(-90)">W</text></g>
<g transform="translate(1434,207)"><rect x="-15" width="30" height="32" fill="#fff" stroke="#555" stroke-width=".8"/><rect x="-15" width="7" height="32" fill="#e2c232"/><text class="tk" text-anchor="middle" transform="translate(-9.5,16)rotate(-90)">←p52</text><circle cx="-15" cy="30" r="1.8" fill="#e2c232" stroke="#333" stroke-width=".5"/><use href="#w"/><text class="l" transform="translate(-1,31)rotate(-90)">p3 (174)</text><text class="c" transform="translate(13,16)rotate(-90)">W</text></g>
<g transform="translate(1434,270)"><use href="#w"/><text class="l" transform="translate(-1,31)rotate(-90)">p4 (171)</text><text class="c" transform="translate(13,16)rotate(-90)">W</text></g>
<g transform="translate(1434,333)"><rect x="-15" width="30" height="32" fill="#fff" stroke="#555" stroke-width=".8"/><rect x="-15" width="7" height="32" fill="#e2c232"/><text class="tk" text-anchor="middle" transform="translate(-9.5,16)rotate(-90)">←p62</text><circle cx="-15" cy="30" r="1.8" fill="#e2c232" stroke="#333" stroke-width=".5"/><use href="#b"/><text class="l" transform="translate(-1,31)rotate(-90)">p5 (148)</text><text class="c" transform="translate(13,16)rotate(-90)">E8</text></g>
<g transform="translate(1434,396)"><rect x="-15" width="30" height="32" fill="#fff" stroke="#555" stroke-width=".8"/><rect x="-15" width="7" height="32" fill="#e2c232"/><text class="tk" text-anchor="middle" transform="translate(-9.5,16)rotate(-90)">←p114</text><circle cx="-15" cy="30" r="1.8" fill="#e2c232" stroke="#333" stroke-width=".5"/><use href="#w"/><text class="l" transform="translate(-1,31)rotate(-90)">p6 (119)</text><text class="c" transform="translate(13,16)rotate(-90)">W</text></g>
<!-- col22 -->
<g transform="translate(1502,81)"><use href="#d"/><text class="l" transform="translate(-1,31)rotate(-90)">p1 (1007)</text><text class="c" transform="translate(13,16)rotate(-90)">W:E8</text></g>
<!-- col23 -->
<g transform="translate(1571,81)"><use href="#a"/><text class="l" transform="translate(-1,31)rotate(-90)">p1 (204)</text><text class="c" transform="translate(13,16)rotate(-90)">LA</text></g>
<g transform="translate(1571,144)"><rect x="-15" width="30" height="32" fill="#fff" stroke="#555" stroke-width=".8"/><rect x="-15" width="7" height="32" fill="#4e8f74"/><text class="t" transform="translate(-9.5,16)rotate(-90)">←p88</text><circle cx="-15" cy="30" r="1.8" fill="#4e8f74" stroke="#333" stroke-width=".5"/><use href="#a"/><text class="l" transform="translate(-1,31)rotate(-90)">p2 (178)</text><text class="c" transform="translate(13,16)rotate(-90)">LA</text></g>
<g transform="translate(1571,207)"><rect x="-15" width="30" height="32" fill="#fff" stroke="#555" stroke-width=".8"/><rect x="-15" width="7" height="32" fill="#4e8f74"/><text class="t" transform="translate(-9.5,16)rotate(-90)">←p86</text><circle cx="-15" cy="30" r="1.8" fill="#4e8f74" stroke="#333" stroke-width=".5"/><use href="#a"/><text class="l" transform="translate(-1,31)rotate(-90)">p3 (160)</text><text class="c" transform="translate(13,16)rotate(-90)">LA</text></g>
<g transform="translate(1571,270)"><rect x="-15" width="30" height="32" fill="#fff" stroke="#555" stroke-width=".8"/><rect x="-15" width="7" height="32" fill="#4e8f74"/><text class="t" transform="translate(-9.5,16)rotate(-90)">←p84</text><circle cx="-15" cy="30" r="1.8" fill="#4e8f74" stroke="#333" stroke-width=".5"/><use href="#a"/><text class="l" transform="translate(-1,31)rotate(-90)">p4 (156)</text><text class="c" transform="translate(13,16)rotate(-90)">LA</text></g>
<g transform="translate(1571,333)"><rect x="-15" width="30" height="32" fill="#fff" stroke="#555" stroke-width=".8"/><rect x="-15" width="7" height="32" fill="#4e8f74"/><text class="t" transform="translate(-9.5,16)rotate(-90)">←p115</text><circle cx="-15" cy="30" r="1.8" fill="#4e8f74" stroke="#333" stroke-width=".5"/><use href="#a"/><text class="l" transform="translate(-1,31)rotate(-90)">p5 (135)</text><text class="c" transform="translate(13,16)rotate(-90)">LA</text></g>
<g transform="translate(1571,396)"><rect x="-15" width="30" height="32" fill="#fff" stroke="#555" stroke-width=".8"/><rect x="-15" width="7" height="32" fill="#4e8f74"/><text class="t" transform="translate(-9.5,16)rotate(-90)">←p51</text><circle cx="-15" cy="30" r="1.8" fill="#4e8f74" stroke="#333" stroke-width=".5"/><use href="#a"/><text class="l" transform="translate(-1,31)rotate(-90)">p6 (134)</text><text class="c" transform="translate(13,16)rotate(-90)">LA</text></g>
<g transform="translate(1571,459)"><rect x="-15" width="30" height="32" fill="#fff" stroke="#555" stroke-width=".8"/><rect x="-15" width="7" height="32" fill="#4e8f74"/><text class="t" transform="translate(-9.5,16)rotate(-90)">←p118</text><circle cx="-15" cy="30" r="1.8" fill="#4e8f74" stroke="#333" stroke-width=".5"/><use href="#a"/><text class="l" transform="translate(-1,31)rotate(-90)">p7 (35)</text><text class="c" transform="translate(13,16)rotate(-90)">LA</text></g>
<!-- col24 -->
<g transform="translate(1639,81)"><rect x="-15" width="30" height="32" fill="#fff" stroke="#555" stroke-width=".8"/><rect x="-15" width="7" height="32" fill="#a8e05a"/><text class="tk" text-anchor="middle" transform="translate(-9.5,16)rotate(-90)">←p101</text><circle cx="-15" cy="30" r="1.8" fill="#a8e05a" stroke="#333" stroke-width=".5"/><use href="#w"/><text class="l" transform="translate(-1,31)rotate(-90)">p1 (27)</text><text class="c" transform="translate(13,16)rotate(-90)">W</text></g>
<g transform="translate(1639,144)"><rect x="-15" width="30" height="32" fill="#fff" stroke="#555" stroke-width=".8"/><rect x="-15" width="7" height="32" fill="#a8e05a"/><text class="tk" text-anchor="middle" transform="translate(-9.5,16)rotate(-90)">←p105</text><circle cx="-15" cy="30" r="1.8" fill="#a8e05a" stroke="#333" stroke-width=".5"/><use href="#w"/><text class="l" transform="translate(-1,31)rotate(-90)">p2 (47)</text><text class="c" transform="translate(13,16)rotate(-90)">W</text></g>
<g transform="translate(1639,207)"><rect x="-15" width="30" height="32" fill="#fff" stroke="#555" stroke-width=".8"/><rect x="-15" width="7" height="32" fill="#a8e05a"/><text class="tk" text-anchor="middle" transform="translate(-9.5,16)rotate(-90)">←p117</text><circle cx="-15" cy="30" r="1.8" fill="#a8e05a" stroke="#333" stroke-width=".5"/><use href="#w"/><text class="l" transform="translate(-1,31)rotate(-90)">p3 (36)</text><text class="c" transform="translate(13,16)rotate(-90)">W</text></g>
<g transform="translate(1639,270)"><rect x="-15" width="30" height="32" fill="#fff" stroke="#555" stroke-width=".8"/><rect x="-15" width="7" height="32" fill="#a8e05a"/><text class="tk" text-anchor="middle" transform="translate(-9.5,16)rotate(-90)">←p135</text><circle cx="-15" cy="30" r="1.8" fill="#a8e05a" stroke="#333" stroke-width=".5"/><use href="#w"/><text class="l" transform="translate(-1,31)rotate(-90)">p4 (20)</text><text class="c" transform="translate(13,16)rotate(-90)">W</text></g>
<g transform="translate(1639,333)"><rect x="-15" width="30" height="32" fill="#fff" stroke="#555" stroke-width=".8"/><rect x="-15" width="7" height="32" fill="#a8e05a"/><text class="tk" text-anchor="middle" transform="translate(-9.5,16)rotate(-90)">←p61</text><circle cx="-15" cy="30" r="1.8" fill="#a8e05a" stroke="#333" stroke-width=".5"/><use href="#w"/><text class="l" transform="translate(-1,31)rotate(-90)">p5 (23)</text><text class="c" transform="translate(13,16)rotate(-90)">W</text></g>
<g transform="translate(1639,396)"><rect x="-15" width="30" height="32" fill="#fff" stroke="#555" stroke-width=".8"/><rect x="-15" width="7" height="32" fill="#a8e05a"/><text class="tk" text-anchor="middle" transform="translate(-9.5,16)rotate(-90)">←p64</text><circle cx="-15" cy="30" r="1.8" fill="#a8e05a" stroke="#333" stroke-width=".5"/><use href="#w"/><text class="l" transform="translate(-1,31)rotate(-90)">p6 (21)</text><text class="c" transform="translate(13,16)rotate(-90)">W</text></g>
<g transform="translate(1639,459)"><use href="#w"/><text class="l" transform="translate(-1,31)rotate(-90)">p7 (0)</text><text class="c" transform="translate(13,16)rotate(-90)">W</text></g>
<g transform="translate(1639,522)"><use href="#w"/><text class="l" transform="translate(-1,31)rotate(-90)">p8 (0)</text><text class="c" transform="translate(13,16)rotate(-90)">W</text></g>
<!-- col25 -->
<g transform="translate(1707,81)"><rect x="-15" width="30" height="32" fill="#fff" stroke="#555" stroke-width=".8"/><rect x="-15" width="7" height="32" fill="#49c2cc"/><text class="t" transform="translate(-9.5,16)rotate(-90)">←p59</text><circle cx="-15" cy="30" r="1.8" fill="#49c2cc" stroke="#333" stroke-width=".5"/><use href="#w"/><text class="l" transform="translate(-1,31)rotate(-90)">p1 (40)</text><text class="c" transform="translate(13,16)rotate(-90)">W</text></g>
<g transform="translate(1707,144)"><rect x="-15" width="30" height="32" fill="#fff" stroke="#555" stroke-width=".8"/><rect x="-15" width="7" height="32" fill="#49c2cc"/><text class="t" transform="translate(-9.5,16)rotate(-90)">←p127</text><circle cx="-15" cy="30" r="1.8" fill="#49c2cc" stroke="#333" stroke-width=".5"/><use href="#w"/><text class="l" transform="translate(-1,31)rotate(-90)">p2 (25)</text><text class="c" transform="translate(13,16)rotate(-90)">W</text></g>
<g transform="translate(1707,207)"><use href="#w"/><text class="l" transform="translate(-1,31)rotate(-90)">p3 (21)</text><text class="c" transform="translate(13,16)rotate(-90)">W</text></g>
<g transform="translate(1707,270)"><use href="#w"/><text class="l" transform="translate(-1,31)rotate(-90)">p4 (27)</text><text class="c" transform="translate(13,16)rotate(-90)">W</text></g>
<g transform="translate(1707,333)"><rect x="-15" width="30" height="32" fill="#fff" stroke="#555" stroke-width=".8"/><rect x="-15" width="7" height="32" fill="#49c2cc"/><text class="t" transform="translate(-9.5,16)rotate(-90)">←p118</text><circle cx="-15" cy="30" r="1.8" fill="#49c2cc" stroke="#333" stroke-width=".5"/><use href="#w"/><text class="l" transform="translate(-1,31)rotate(-90)">p5 (22)</text><text class="c" transform="translate(13,16)rotate(-90)">W</text></g>
<g transform="translate(1707,396)"><use href="#w"/><text class="l" transform="translate(-1,31)rotate(-90)">p6 (22)</text><text class="c" transform="translate(13,16)rotate(-90)">W</text></g>
<g transform="translate(1707,459)"><rect x="-15" width="30" height="32" fill="#fff" stroke="#555" stroke-width=".8"/><rect x="-15" width="7" height="32" fill="#49c2cc"/><text class="t" transform="translate(-9.5,16)rotate(-90)">←p108</text><circle cx="-15" cy="30" r="1.8" fill="#49c2cc" stroke="#333" stroke-width=".5"/><use href="#w"/><text class="l" transform="translate(-1,31)rotate(-90)">p7 (24)</text><text class="c" transform="translate(13,16)rotate(-90)">W</text></g>
<g transform="translate(1707,522)"><use href="#w"/><text class="l" transform="translate(-1,31)rotate(-90)">p8 (0)</text><text class="c" transform="translate(13,16)rotate(-90)">W</text></g>
<g transform="translate(1707,585)"><use href="#w"/><text class="l" transform="translate(-1,31)rotate(-90)">p9 (0)</text><text class="c" transform="translate(13,16)rotate(-90)">W</text></g>
<!-- col26 -->
<g transform="translate(1776,81)"><use href="#w"/><text class="l" transform="translate(-1,31)rotate(-90)">p1 (35)</text><text class="c" transform="translate(13,16)rotate(-90)">W</text></g>
<g transform="translate(1776,144)"><use href="#w"/><text class="l" transform="translate(-1,31)rotate(-90)">p2 (25)</text><text class="c" transform="translate(13,16)rotate(-90)">W</text></g>
<g transform="translate(1776,207)"><use href="#w"/><text class="l" transform="translate(-1,31)rotate(-90)">p3 (25)</text><text class="c" transform="translate(13,16)rotate(-90)">W</text></g>
<g transform="translate(1776,270)"><use href="#w"/><text class="l" transform="translate(-1,31)rotate(-90)">p4 (21)</text><text class="c" transform="translate(13,16)rotate(-90)">W</text></g>
<g transform="translate(1776,333)"><use href="#w"/><text class="l" transform="translate(-1,31)rotate(-90)">p5 (22)</text><text class="c" transform="translate(13,16)rotate(-90)">W</text></g>
<g transform="translate(1776,396)"><use href="#w"/><text class="l" transform="translate(-1,31)rotate(-90)">p6 (21)</text><text class="c" transform="translate(13,16)rotate(-90)">W</text></g>
<g transform="translate(1776,459)"><use href="#w"/><text class="l" transform="translate(-1,31)rotate(-90)">p7 (20)</text><text class="c" transform="translate(13,16)rotate(-90)">W</text></g>
<g transform="translate(1776,522)"><use href="#w"/><text class="l" transform="translate(-1,31)rotate(-90)">p8 (0)</text><text class="c" transform="translate(13,16)rotate(-90)">W</text></g>
<g transform="translate(1776,585)"><use href="#w"/><text class="l" transform="translate(-1,31)rotate(-90)">p9 (0)</text><text class="c" transform="translate(13,16)rotate(-90)">W</text></g>
<g transform="translate(1776,648)"><use href="#w"/><text class="l" transform="translate(-1,31)rotate(-90)">p10 (0)</text><text class="c" transform="translate(13,16)rotate(-90)">W</text></g>
<!-- col27 -->
<g transform="translate(1844,81)"><rect x="-15" width="30" height="32" fill="#fff" stroke="#555" stroke-width=".8"/><rect x="-15" width="7" height="32" fill="#e8893a"/><text class="t" transform="translate(-9.5,16)rotate(-90)">←p135</text><circle cx="-15" cy="30" r="1.8" fill="#e8893a" stroke="#333" stroke-width=".5"/><use href="#w"/><text class="l" transform="translate(-1,31)rotate(-90)">p1 (26)</text><text class="c" transform="translate(13,16)rotate(-90)">W</text></g>
<g transform="translate(1844,144)"><use href="#w"/><text class="l" transform="translate(-1,31)rotate(-90)">p2 (20)</text><text class="c" transform="translate(13,16)rotate(-90)">W</text></g>
<g transform="translate(1844,207)"><use href="#w"/><text class="l" transform="translate(-1,31)rotate(-90)">p3 (26)</text><text class="c" transform="translate(13,16)rotate(-90)">W</text></g>
<g transform="translate(1844,270)"><use href="#w"/><text class="l" transform="translate(-1,31)rotate(-90)">p4 (26)</text><text class="c" transform="translate(13,16)rotate(-90)">W</text></g>
<g transform="translate(1844,333)"><use href="#w"/><text class="l" transform="translate(-1,31)rotate(-90)">p5 (20)</text><text class="c" transform="translate(13,16)rotate(-90)">W</text></g>
<g transform="translate(1844,396)"><use href="#w"/><text class="l" transform="translate(-1,31)rotate(-90)">p6 (20)</text><text class="c" transform="translate(13,16)rotate(-90)">W</text></g>
<g transform="translate(1844,459)"><rect x="-15" width="30" height="32" fill="#fff" stroke="#555" stroke-width=".8"/><rect x="-15" width="7" height="32" fill="#e8893a"/><text class="t" transform="translate(-9.5,16)rotate(-90)">←p186</text><circle cx="-15" cy="30" r="1.8" fill="#e8893a" stroke="#333" stroke-width=".5"/><use href="#w"/><text class="l" transform="translate(-1,31)rotate(-90)">p7 (35)</text><text class="c" transform="translate(13,16)rotate(-90)">W</text></g>
<g transform="translate(1844,522)"><use href="#w"/><text class="l" transform="translate(-1,31)rotate(-90)">p8 (14)</text><text class="c" transform="translate(13,16)rotate(-90)">W</text></g>
<g transform="translate(1844,585)"><use href="#w"/><text class="l" transform="translate(-1,31)rotate(-90)">p9 (0)</text><text class="c" transform="translate(13,16)rotate(-90)">W</text></g>
<!-- col28 -->
<g transform="translate(1912,81)"><use href="#d"/><text class="l" transform="translate(-1,31)rotate(-90)">p1 (16)</text><text class="c" transform="translate(13,16)rotate(-90)">W:E8</text></g>
<g transform="translate(1912,144)"><use href="#d"/><text class="l" transform="translate(-1,31)rotate(-90)">p2 (15)</text><text class="c" transform="translate(13,16)rotate(-90)">W:E8</text></g>
<g transform="translate(1912,207)"><use href="#d"/><text class="l" transform="translate(-1,31)rotate(-90)">p3 (17)</text><text class="c" transform="translate(13,16)rotate(-90)">W:E8</text></g>
<g transform="translate(1912,270)"><use href="#d"/><text class="l" transform="translate(-1,31)rotate(-90)">p4 (21)</text><text class="c" transform="translate(13,16)rotate(-90)">W:E8</text></g>
<g transform="translate(1912,333)"><use href="#w"/><text class="l" transform="translate(-1,31)rotate(-90)">p5 (24)</text><text class="c" transform="translate(13,16)rotate(-90)">W</text></g>
<g transform="translate(1912,396)"><use href="#w"/><text class="l" transform="translate(-1,31)rotate(-90)">p6 (22)</text><text class="c" transform="translate(13,16)rotate(-90)">W</text></g>
<g transform="translate(1912,459)"><use href="#w"/><text class="l" transform="translate(-1,31)rotate(-90)">p7 (19)</text><text class="c" transform="translate(13,16)rotate(-90)">W</text></g>
<g transform="translate(1912,522)"><use href="#w"/><text class="l" transform="translate(-1,31)rotate(-90)">p8 (20)</text><text class="c" transform="translate(13,16)rotate(-90)">W</text></g>
<g transform="translate(1912,585)"><use href="#w"/><text class="l" transform="translate(-1,31)rotate(-90)">p9 (0)</text><text class="c" transform="translate(13,16)rotate(-90)">W</text></g>
<g transform="translate(1912,648)"><use href="#w"/><text class="l" transform="translate(-1,31)rotate(-90)">p10 (0)</text><text class="c" transform="translate(13,16)rotate(-90)">W</text></g>
<!-- col29 -->
<g transform="translate(1980,81)"><use href="#w"/><text class="l" transform="translate(-1,31)rotate(-90)">p1 (19)</text><text class="c" transform="translate(13,16)rotate(-90)">W</text></g>
<g transform="translate(1980,144)"><use href="#w"/><text class="l" transform="translate(-1,31)rotate(-90)">p2 (24)</text><text class="c" transform="translate(13,16)rotate(-90)">W</text></g>
<g transform="translate(1980,207)"><use href="#w"/><text class="l" transform="translate(-1,31)rotate(-90)">p3 (15)</text><text class="c" transform="translate(13,16)rotate(-90)">W</text></g>
<g transform="translate(1980,270)"><use href="#w"/><text class="l" transform="translate(-1,31)rotate(-90)">p4 (23)</text><text class="c" transform="translate(13,16)rotate(-90)">W</text></g>
<g transform="translate(1980,333)"><use href="#w"/><text class="l" transform="translate(-1,31)rotate(-90)">p5 (21)</text><text class="c" transform="translate(13,16)rotate(-90)">W</text></g>
<g transform="translate(1980,396)"><use href="#w"/><text class="l" transform="translate(-1,31)rotate(-90)">p6 (16)</text><text class="c" transform="translate(13,16)rotate(-90)">W</text></g>
<g transform="translate(1980,459)"><use href="#w"/><text class="l" transform="translate(-1,31)rotate(-90)">p7 (0)</text><text class="c" transform="translate(13,16)rotate(-90)">W</text></g>
<g transform="translate(1980,522)"><use href="#w"/><text class="l" transform="translate(-1,31)rotate(-90)">p8 (0)</text><text class="c" transform="translate(13,16)rotate(-90)">W</text></g>
</g>

<!-- lines -->
<g class="lines">
<path class="ln" stroke="#2e7d5e" d="M589,84.5L1556,363"/>
<path class="ln" stroke="#e2b822" d="M589,148.5L599,363"/>
<path class="ln" stroke="#3dbcc6" d="M589,154.5L873,363"/>
<path class="ln" stroke="#e2b822" d="M589,160.5L599,363"/>
<path class="ln" stroke="#e2b822" d="M589,217.5L599,174"/>
<path class="ln" stroke="#e8802a" d="M589,274.5L1009,363"/>
<path class="ln" stroke="#e2b822" d="M589,280.5L599,174"/>
<path class="ln" stroke="#2e7d5e" d="M589,286.5L1556,300"/>
<path class="ln" stroke="#2e7d5e" d="M589,338.5L736,237"/>
<path class="ln" stroke="#5a3fd0" d="M589,344.5L941,111"/>
<path class="ln" stroke="#5a3fd0" d="M589,401.5L941,300"/>
<path class="ln" stroke="#2e7d5e" d="M589,591.5L736,363"/>
<path class="ln" stroke="#3dbcc6" d="M589,597.5L1214,310"/>
<path class="ln" stroke="#5a3fd0" d="M531,211.5L561,524"/>
<path class="ln" stroke="#d8278a" d="M519,528.5L1077,300"/>
<path class="ln" stroke="#9ee04a" d="M657,84.5L1624,111"/>
<path class="ln" stroke="#5a3fd0" d="M657,148.5L941,363"/>
<path class="ln" stroke="#e2b822" d="M657,154.5L1419,237"/>
<path class="ln" stroke="#9ee04a" d="M657,274.5L1624,237"/>
<path class="ln" stroke="#2e7d5e" d="M657,528.5L736,111"/>
<path class="ln" stroke="#2e7d5e" d="M657,534.5L736,174"/>
<path class="ln" stroke="#3dbcc6" d="M657,540.5L873,237"/>
<path class="ln" stroke="#3dbcc6" d="M628,179L873,363"/>
<path class="ln" stroke="#e2b822" d="M620,270L1419,174"/>
<path class="ln" stroke="#9ee04a" d="M720,220L1624,333"/>
<path class="ln" stroke="#2e7d5e" d="M1066,337.5L1556,237"/>
<path class="ln" stroke="#2e7d5e" d="M1003,398.5L1556,174"/>
<path class="ln" stroke="#3a70e0" d="M1064,461.5L1282,174"/>
<path class="ln" stroke="#9ee04a" d="M1135,84.5L1624,111"/>
<path class="ln" stroke="#9ee04a" d="M1135,337.5L1624,300"/>
<path class="ln" stroke="#3dbcc6" d="M1135,526.5L1692,489"/>
<path class="ln" stroke="#e2b822" d="M1203,210.5L1419,111"/>
<path class="ln" stroke="#e2b822" d="M1203,273.5L1419,363"/>
<path class="ln" stroke="#e2b822" d="M1203,273.5L1419,426"/>
<path class="ln" stroke="#2e7d5e" d="M1203,337.5L1556,426"/>
<path class="ln" stroke="#9ee04a" d="M1203,463.5L1295,415"/>
<path class="ln" stroke="#2e7d5e" d="M1203,526.5L1556,489"/>
<path class="ln" stroke="#3dbcc6" d="M1203,532.5L1692,489"/>
<path class="ln" stroke="#3dbcc6" d="M1203,529L1692,174"/>
<path class="ln" stroke="#3dbcc6" d="M1272,526.5L1692,111"/>
<path class="ln" stroke="#e8802a" d="M1340,337.5L1829,489"/>
<path class="ln" stroke="#e8802a" d="M1340,404.5L1829,111"/>
<path class="ln" stroke="#9ee04a" d="M1340,398.5L1624,174"/>
<path class="ln" stroke="#9ee04a" d="M1100,300L1624,426"/>
<path class="ln" stroke="#2e7d5e" d="M960,300L1556,300"/>
</g>

<!-- tags -->
<g>
<g transform="translate(561,81)"><rect width="27" height="7" fill="#4e8f74" stroke="#333" stroke-width=".6"/><text class="tg" x="2" y="6">→p151</text><circle cx="28" cy="3.5" r="1.6" fill="#4e8f74" stroke="#222" stroke-width=".5"/></g>
<g transform="translate(561,145)"><rect width="27" height="6" fill="#e2c232" stroke="#333" stroke-width=".6"/><text class="tk" x="2" y="5.5">→p65</text><circle cx="28" cy="3" r="1.6" fill="#e2c232" stroke="#222" stroke-width=".5"/></g>
<g transform="translate(561,151)"><rect width="27" height="6" fill="#49c2cc" stroke="#333" stroke-width=".6"/><text class="tg" x="2" y="5.5">→p81</text><circle cx="28" cy="3" r="1.6" fill="#49c2cc" stroke="#222" stroke-width=".5"/></g>
<g transform="translate(561,157)"><rect width="27" height="6" fill="#e2c232" stroke="#333" stroke-width=".6"/><text class="tk" x="2" y="5.5">→p141</text><circle cx="28" cy="3" r="1.6" fill="#e2c232" stroke="#222" stroke-width=".5"/></g>
<g transform="translate(561,214)"><rect width="27" height="7" fill="#e2c232" stroke="#333" stroke-width=".6"/><text class="tk" x="2" y="6">→p62</text><circle cx="28" cy="3.5" r="1.6" fill="#e2c232" stroke="#222" stroke-width=".5"/></g>
<g transform="translate(561,271)"><rect width="27" height="6" fill="#e8893a" stroke="#333" stroke-width=".6"/><text class="tg" x="2" y="5.5">→p96</text><circle cx="28" cy="3" r="1.6" fill="#e8893a" stroke="#222" stroke-width=".5"/></g>
<g transform="translate(561,277)"><rect width="27" height="6" fill="#e2c232" stroke="#333" stroke-width=".6"/><text class="tk" x="2" y="5.5">→p139</text><circle cx="28" cy="3" r="1.6" fill="#e2c232" stroke="#222" stroke-width=".5"/></g>
<g transform="translate(561,283)"><rect width="27" height="6" fill="#4e8f74" stroke="#333" stroke-width=".6"/><text class="tg" x="2" y="5.5">→p149</text><circle cx="28" cy="3" r="1.6" fill="#4e8f74" stroke="#222" stroke-width=".5"/></g>
<g transform="translate(561,335)"><rect width="27" height="6" fill="#4e8f74" stroke="#333" stroke-width=".6"/><text class="tg" x="2" y="5.5">→p71</text><circle cx="28" cy="3" r="1.6" fill="#4e8f74" stroke="#222" stroke-width=".5"/></g>
<g transform="translate(561,341)"><rect width="27" height="6" fill="#6a52c8" stroke="#333" stroke-width=".6"/><text class="tg" x="2" y="5.5">→p83</text><circle cx="28" cy="3" r="1.6" fill="#6a52c8" stroke="#222" stroke-width=".5"/></g>
<g transform="translate(561,398)"><rect width="27" height="7" fill="#6a52c8" stroke="#333" stroke-width=".6"/><text class="tg" x="2" y="6">→p86</text><circle cx="28" cy="3.5" r="1.6" fill="#6a52c8" stroke="#222" stroke-width=".5"/></g>
<g transform="translate(561,588)"><rect width="27" height="6" fill="#4e8f74" stroke="#333" stroke-width=".6"/><text class="tg" x="2" y="5.5">→p74</text><circle cx="28" cy="3" r="1.6" fill="#4e8f74" stroke="#222" stroke-width=".5"/></g>
<g transform="translate(561,594)"><rect width="27" height="6" fill="#49c2cc" stroke="#333" stroke-width=".6"/><text class="tg" x="2" y="5.5">→p161</text><circle cx="28" cy="3" r="1.6" fill="#49c2cc" stroke="#222" stroke-width=".5"/></g>
<g transform="translate(503,208)"><rect width="27" height="7" fill="#7a52b8" stroke="#333" stroke-width=".6"/><text class="tg" x="2" y="6">→p58</text><circle cx="0" cy="3.5" r="1.6" fill="#7a52b8" stroke="#222" stroke-width=".5"/></g>
<g transform="translate(491,525)"><rect width="27" height="7" fill="#d8378f" stroke="#333" stroke-width=".6"/><text class="tg" x="2" y="6">→p104</text><circle cx="28" cy="3.5" r="1.6" fill="#d8378f" stroke="#222" stroke-width=".5"/></g>
<g transform="translate(629,81)"><rect width="27" height="7" fill="#a8e05a" stroke="#333" stroke-width=".6"/><text class="tk" x="2" y="6">→p157</text><circle cx="28" cy="3.5" r="1.6" fill="#a8e05a" stroke="#222" stroke-width=".5"/></g>
<g transform="translate(629,145)"><rect width="27" height="6" fill="#6a52c8" stroke="#333" stroke-width=".6"/><text class="tg" x="2" y="5.5">→p87</text><circle cx="28" cy="3" r="1.6" fill="#6a52c8" stroke="#222" stroke-width=".5"/></g>
<g transform="translate(629,151)"><rect width="27" height="6" fill="#e2c232" stroke="#333" stroke-width=".6"/><text class="tk" x="2" y="5.5">→p143</text><circle cx="28" cy="3" r="1.6" fill="#e2c232" stroke="#222" stroke-width=".5"/></g>
<g transform="translate(629,271)"><rect width="27" height="7" fill="#a8e05a" stroke="#333" stroke-width=".6"/><text class="tk" x="2" y="6">→p158</text><circle cx="28" cy="3.5" r="1.6" fill="#a8e05a" stroke="#222" stroke-width=".5"/></g>
<g transform="translate(629,525)"><rect width="27" height="6" fill="#4e8f74" stroke="#333" stroke-width=".6"/><text class="tg" x="2" y="5.5">→p70</text><circle cx="28" cy="3" r="1.6" fill="#4e8f74" stroke="#222" stroke-width=".5"/></g>
<g transform="translate(629,531)"><rect width="27" height="6" fill="#4e8f74" stroke="#333" stroke-width=".6"/><text class="tg" x="2" y="5.5">→p72</text><circle cx="28" cy="3" r="1.6" fill="#4e8f74" stroke="#222" stroke-width=".5"/></g>
<g transform="translate(629,537)"><rect width="27" height="6" fill="#49c2cc" stroke="#333" stroke-width=".6"/><text class="tg" x="2" y="5.5">→p79</text><circle cx="28" cy="3" r="1.6" fill="#49c2cc" stroke="#222" stroke-width=".5"/></g>
<g transform="translate(1038,334)"><rect width="27" height="7" fill="#4e8f74" stroke="#333" stroke-width=".6"/><text class="tg" x="2" y="6">→p148</text><circle cx="28" cy="3.5" r="1.6" fill="#4e8f74" stroke="#222" stroke-width=".5"/></g>
<g transform="translate(975,395)"><rect width="27" height="7" fill="#4e8f74" stroke="#333" stroke-width=".6"/><text class="tg" x="2" y="6">→p147</text><circle cx="28" cy="3.5" r="1.6" fill="#4e8f74" stroke="#222" stroke-width=".5"/></g>
<g transform="translate(1036,458)"><rect width="27" height="7" fill="#4a7fd8" stroke="#333" stroke-width=".6"/><text class="tg" x="2" y="6">→p131</text><circle cx="28" cy="3.5" r="1.6" fill="#4a7fd8" stroke="#222" stroke-width=".5"/></g>
<g transform="translate(1107,81)"><rect width="27" height="7" fill="#a8e05a" stroke="#333" stroke-width=".6"/><text class="tk" x="2" y="6">→p153</text><circle cx="28" cy="3.5" r="1.6" fill="#a8e05a" stroke="#222" stroke-width=".5"/></g>
<g transform="translate(1107,334)"><rect width="27" height="7" fill="#a8e05a" stroke="#333" stroke-width=".6"/><text class="tk" x="2" y="6">→p154</text><circle cx="28" cy="3.5" r="1.6" fill="#a8e05a" stroke="#222" stroke-width=".5"/></g>
<g transform="translate(1107,523)"><rect width="27" height="7" fill="#3aa8a8" stroke="#333" stroke-width=".6"/><text class="tg" x="2" y="6">→p167</text><circle cx="28" cy="3.5" r="1.6" fill="#3aa8a8" stroke="#222" stroke-width=".5"/></g>
<g transform="translate(1175,207)"><rect width="27" height="7" fill="#e2c232" stroke="#333" stroke-width=".6"/><text class="tk" x="2" y="6">→p140</text><circle cx="28" cy="3.5" r="1.6" fill="#e2c232" stroke="#222" stroke-width=".5"/></g>
<g transform="translate(1175,270)"><rect width="27" height="7" fill="#e2c232" stroke="#333" stroke-width=".6"/><text class="tk" x="2" y="6">→p144</text><circle cx="28" cy="3.5" r="1.6" fill="#e2c232" stroke="#222" stroke-width=".5"/></g>
<g transform="translate(1175,334)"><rect width="27" height="7" fill="#4e8f74" stroke="#333" stroke-width=".6"/><text class="tg" x="2" y="6">→p150</text><circle cx="28" cy="3.5" r="1.6" fill="#4e8f74" stroke="#222" stroke-width=".5"/></g>
<g transform="translate(1175,460)"><rect width="27" height="7" fill="#a8e05a" stroke="#333" stroke-width=".6"/><text class="tk" x="2" y="6">→p155</text><circle cx="28" cy="3.5" r="1.6" fill="#a8e05a" stroke="#222" stroke-width=".5"/></g>
<g transform="translate(1175,523)"><rect width="27" height="6" fill="#4e8f74" stroke="#333" stroke-width=".6"/><text class="tg" x="2" y="5.5">→p152</text><circle cx="28" cy="3" r="1.6" fill="#4e8f74" stroke="#222" stroke-width=".5"/></g>
<g transform="translate(1175,529)"><rect width="27" height="6" fill="#49c2cc" stroke="#333" stroke-width=".6"/><text class="tg" x="2" y="5.5">→p165</text><circle cx="28" cy="3" r="1.6" fill="#49c2cc" stroke="#222" stroke-width=".5"/></g>
<g transform="translate(1244,523)"><rect width="27" height="7" fill="#49c2cc" stroke="#333" stroke-width=".6"/><text class="tg" x="2" y="6">→p182</text><circle cx="28" cy="3.5" r="1.6" fill="#49c2cc" stroke="#222" stroke-width=".5"/></g>
<g transform="translate(1312,334)"><rect width="27" height="7" fill="#e8893a" stroke="#333" stroke-width=".6"/><text class="tg" x="2" y="6">→p186</text><circle cx="28" cy="3.5" r="1.6" fill="#e8893a" stroke="#222" stroke-width=".5"/></g>
<g transform="translate(1312,395)"><rect width="27" height="6" fill="#a8e05a" stroke="#333" stroke-width=".6"/><text class="tk" x="2" y="5.5">→p156</text><circle cx="28" cy="3" r="1.6" fill="#a8e05a" stroke="#222" stroke-width=".5"/></g>
<g transform="translate(1312,401)"><rect width="27" height="6" fill="#e8893a" stroke="#333" stroke-width=".6"/><text class="tg" x="2" y="5.5">→p180</text><circle cx="28" cy="3" r="1.6" fill="#e8893a" stroke="#222" stroke-width=".5"/></g>
</g>
</svg>
</body></html>
